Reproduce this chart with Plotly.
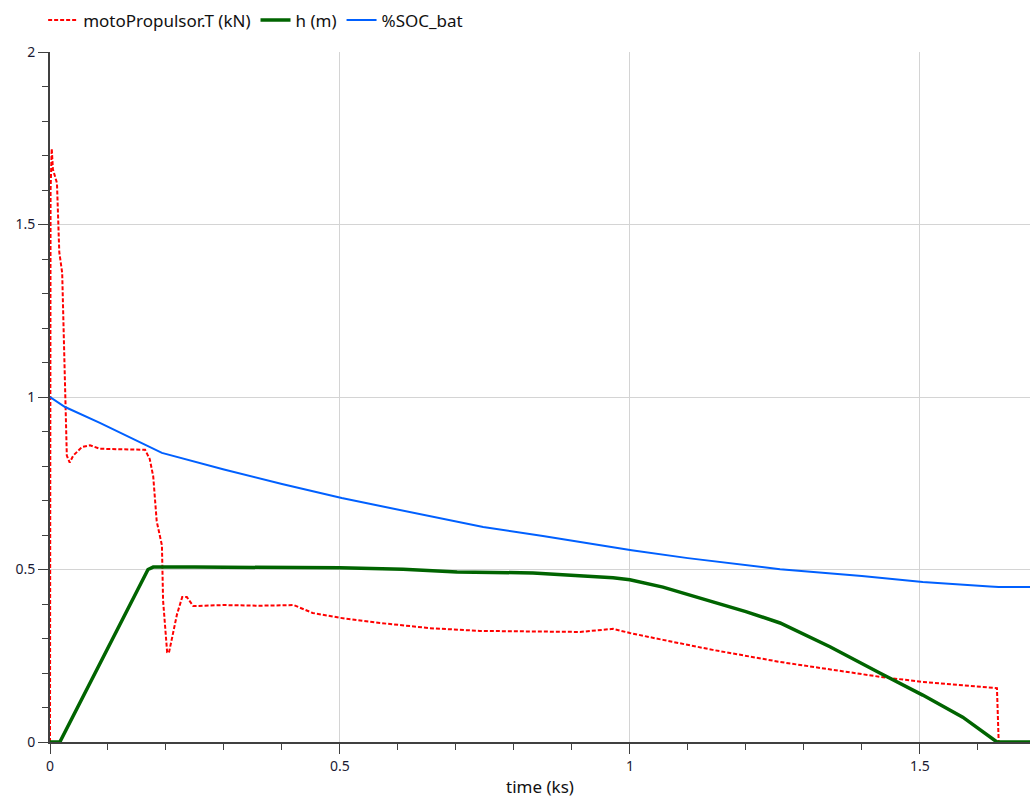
import plotly.graph_objects as go

# ---- data (time in ks) ----
t_thrust = [0, 0.001, 0.003, 0.005, 0.012, 0.016, 0.021, 0.026, 0.029, 0.034, 0.040,
            0.055, 0.069, 0.086, 0.12, 0.164, 0.172, 0.178, 0.184, 0.193, 0.195,
            0.202, 0.205, 0.210, 0.219, 0.228, 0.236, 0.247, 0.30, 0.36, 0.42,
            0.453, 0.50, 0.569, 0.655, 0.741, 0.83, 0.914, 0.971, 1.0, 1.057,
            1.143, 1.259, 1.345, 1.431, 1.505, 1.57, 1.633, 1.636, 1.69]
thrust_kN = [0, 1.60, 1.72, 1.66, 1.62, 1.42, 1.36, 1.00, 0.83, 0.81, 0.83,
             0.855, 0.86, 0.85, 0.848, 0.847, 0.82, 0.77, 0.64, 0.57, 0.41,
             0.26, 0.258, 0.30, 0.37, 0.42, 0.42, 0.394, 0.397, 0.395, 0.397,
             0.374, 0.36, 0.345, 0.33, 0.322, 0.32, 0.319, 0.328, 0.316, 0.296,
             0.267, 0.232, 0.21, 0.189, 0.174, 0.165, 0.156, 0, 0]

t_h = [0, 0.017, 0.169, 0.178, 0.25, 0.40, 0.50, 0.609, 0.702, 0.833, 0.926,
       0.971, 1.0, 1.057, 1.143, 1.200, 1.259, 1.345, 1.431, 1.505, 1.574, 1.633, 1.69]
h_m = [0, 0, 0.50, 0.507, 0.507, 0.507, 0.505, 0.501, 0.493, 0.49, 0.481,
       0.476, 0.47, 0.449, 0.406, 0.378, 0.345, 0.276, 0.20, 0.136, 0.072, 0, 0]

t_soc = [0, 0.026, 0.086, 0.172, 0.193, 0.30, 0.40, 0.503, 0.60, 0.747, 0.85,
         1.003, 1.10, 1.259, 1.40, 1.505, 1.621, 1.636, 1.69]
soc = [1.0, 0.971, 0.925, 0.855, 0.838, 0.79, 0.748, 0.707, 0.673, 0.623, 0.597,
       0.556, 0.533, 0.501, 0.481, 0.464, 0.451, 0.449, 0.449]

x_ticks = [0, 0.5, 1, 1.5]
x_ticklabels = ["0", "0.5", "1", "1.5"]
y_ticks = [0, 0.5, 1, 1.5, 2]
y_ticklabels = ["0", "0.5", "1", "1.5", "2"]

FONT = "Noto Sans"

fig = go.Figure()
fig.add_trace(go.Scatter(x=t_thrust, y=thrust_kN, mode="lines",
                         name="motoPropulsor.T (kN)",
                         line=dict(color="#ff0000", width=2, dash="4px,2px")))
fig.add_trace(go.Scatter(x=t_h, y=h_m, mode="lines", name="h (m)",
                         line=dict(color="#006400", width=3.5)))
fig.add_trace(go.Scatter(x=t_soc, y=soc, mode="lines", name="%SOC_bat",
                         line=dict(color="#0060ff", width=2)))

axis_common = dict(
    showline=True, linecolor="#404040", linewidth=2,
    showgrid=True, gridcolor="#d4d4d4", gridwidth=1,
    zeroline=False, automargin=False,
    ticks="outside", ticklen=10, tickcolor="#404040", tickwidth=1,
    tickfont=dict(family=FONT, size=14, color="#1a1a33"),
    minor=dict(ticks="outside", ticklen=6, tickcolor="#404040", dtick=0.1,
               showgrid=False),
)

fig.update_layout(
    width=1030, height=798,
    margin=dict(l=50, r=0, t=52, b=56, autoexpand=False),
    paper_bgcolor="white", plot_bgcolor="white",
    font=dict(family=FONT, size=17, color="#111111"),
    showlegend=True,
    legend=dict(orientation="h", x=-0.007, xanchor="left", y=1.0457, yanchor="middle",
                font=dict(family=FONT, size=17, color="#111111"),
                bgcolor="rgba(0,0,0,0)", itemwidth=30, tracegroupgap=0),
    xaxis=dict(range=[0, 1.69], tickvals=x_ticks, ticktext=x_ticklabels,
               title=dict(text="time (ks)", font=dict(family=FONT, size=17, color="#111111"),
                          standoff=7),
               **axis_common),
    yaxis=dict(range=[0, 2], tickvals=y_ticks, ticktext=y_ticklabels,
               **axis_common),
)

fig.write_html("out.html",
               config={"displayModeBar": False},
               post_script="document.body.style.margin='0';document.body.style.overflow='hidden';")
